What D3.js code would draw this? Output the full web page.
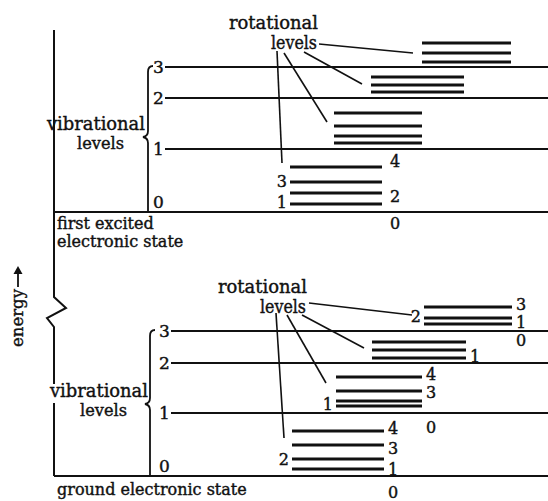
<!DOCTYPE html>
<html>
<head>
<meta charset="utf-8">
<script src="https://cdn.jsdelivr.net/npm/d3@7"></script>
<style>
  html, body { margin: 0; padding: 0; background: #fff; }
  svg { display: block; }
  text { font-family: "DejaVu Serif", "Liberation Serif", serif; fill: #111; stroke: #111; stroke-width: 0.4px; }
</style>
</head>
<body>
<svg id="chart" width="548" height="501"></svg>
<script>
// ---------------- DATA (energies in arbitrary units) ----------------
const vibNumbers = [0, 1, 2, 3];
const groundVibE = [0, 6.3, 11.3, 14.5];          // ground electronic state, v = 0..3
const excitedVibE = [26.4, 32.7, 37.8, 40.9];     // first excited electronic state, v = 0..3
// rotational levels J = 1..n above each vibrational level (relative energies)
const groundRotE = [[0.7, 1.7, 3.1, 4.5], [0.7, 1.2, 2.2, 3.6], [0.5, 1.3, 2.1], [0.7, 1.3, 2.4]];
const excitedRotE = [[0.8, 1.9, 3.0, 4.5], [0.6, 1.3, 2.3, 3.6], [0.6, 1.3, 2.1], [0.5, 1.4, 2.4]];
// J labels: [v, J, side]
const excitedJLabels = [[0, 4, "r"], [0, 3, "l"], [0, 2, "r"], [0, 1, "l"], [0, 0, "r"]];
const groundJLabels = [[0, 4, "r"], [0, 3, "r"], [0, 1, "r"], [0, 2, "l"], [0, 0, "r"],
                       [1, 4, "r"], [1, 3, "r"], [1, 1, "l"], [1, 0, "r"],
                       [2, 1, "r"],
                       [3, 3, "r"], [3, 1, "r"], [3, 0, "r"], [3, 2, "l"]];
const stateNames = ["ground electronic state", "first excited", "electronic state"];

// ---------------- LAYOUT ----------------
const W = 548, H = 501;
const svg = d3.select("#chart");
const y = d3.scaleLinear().domain([0, 44.6]).range([476, 30]);
const axisX = 54;
const excitedStart = d3.scaleOrdinal().domain(vibNumbers).range([290, 334, 371, 422]);
const excitedEnd = d3.scaleOrdinal().domain(vibNumbers).range([382, 422, 464, 511]);
const groundStart = d3.scaleOrdinal().domain(vibNumbers).range([292, 336, 372, 424]);
const groundEnd = d3.scaleOrdinal().domain(vibNumbers).range([384, 422, 466, 512]);
// label vertical offsets (px from the J line) keyed "v-J"
const excitedLabelDy = {"0-4": 0, "0-3": 5, "0-2": 9, "0-1": 4, "0-0": 17};
const groundLabelDy = {"0-4": 3, "0-3": 9, "0-1": 6, "0-2": 6, "0-0": 22,
                       "1-4": 3, "1-3": 7, "1-1": 4, "1-0": 20, "2-1": 4,
                       "3-3": 3, "3-1": 4, "3-0": 15, "3-2": 4};

const ink = "#111";

// ---------------- energy axis ----------------
const axisTop = y.range()[1];
const zig = [[axisX, axisTop], [axisX, 297], [axisX + 12, 308], [axisX - 7, 318], [axisX, 327], [axisX, 384]];
svg.append("path").attr("d", d3.line()(zig)).attr("fill", "none").attr("stroke", ink).attr("stroke-width", 2);
svg.append("line").attr("x1", axisX).attr("x2", axisX).attr("y1", 403).attr("y2", y(0))
  .attr("stroke", ink).attr("stroke-width", 2);

// energy label with arrow
const eg = svg.append("g").attr("transform", "translate(23,318) rotate(-90)");
eg.append("text").attr("x", 0).attr("y", 0).attr("text-anchor", "middle")
  .attr("font-size", 17).attr("textLength", 58).attr("lengthAdjust", "spacingAndGlyphs").text("energy");
eg.append("line").attr("x1", 31).attr("x2", 50).attr("y1", -5).attr("y2", -5)
  .attr("stroke", ink).attr("stroke-width", 1.8);
eg.append("path").attr("d", "M52,-5 L44,-9.5 L44,-0.5 Z").attr("fill", ink);

// ---------------- helper to draw one electronic state ----------------
function drawState(cfg) {
  const g = svg.append("g");
  // electronic state baseline
  g.append("line").attr("x1", axisX).attr("x2", W).attr("y1", y(cfg.vibE[0])).attr("y2", y(cfg.vibE[0]))
    .attr("stroke", ink).attr("stroke-width", 2.2);
  // vibrational levels v >= 1
  g.selectAll("line.vib").data(vibNumbers.filter(v => v > 0)).enter().append("line")
    .attr("class", "vib")
    .attr("x1", cfg.vibLabelX + 12).attr("x2", W)
    .attr("y1", v => y(cfg.vibE[v])).attr("y2", v => y(cfg.vibE[v]))
    .attr("stroke", ink).attr("stroke-width", 2);
  // vibrational labels
  g.selectAll("text.vl").data(vibNumbers).enter().append("text")
    .attr("x", cfg.vibLabelX).attr("y", v => v === 0 ? y(cfg.vibE[0]) - 4 : y(cfg.vibE[v]) + 6)
    .attr("font-size", 17).text(v => v);
  // brace
  const bx = cfg.braceX, yt = y(cfg.vibE[3]) - 1, yb = y(cfg.vibE[0]);
  const ym = cfg.braceMid;
  g.append("path")
    .attr("d", `M${bx + 5},${yt} Q${bx},${yt} ${bx},${yt + 6} L${bx},${ym - 6} Q${bx},${ym - 1} ${bx - 5},${ym} Q${bx},${ym + 1} ${bx},${ym + 6} L${bx},${yb}`)
    .attr("fill", "none").attr("stroke", ink).attr("stroke-width", 1.8);
  // vibrational levels text
  g.append("text").attr("x", cfg.vibTextX).attr("y", cfg.vibTextY).attr("font-size", 18)
    .attr("textLength", 98).attr("lengthAdjust", "spacingAndGlyphs").text("vibrational");
  g.append("text").attr("x", cfg.vibTextX + 30).attr("y", cfg.vibTextY + 19).attr("font-size", 17)
    .attr("textLength", 47).attr("lengthAdjust", "spacingAndGlyphs").text("levels");
  // rotational levels
  cfg.rotE.forEach((arr, v) => {
    g.selectAll(null).data(arr).enter().append("line")
      .attr("x1", cfg.start(v)).attr("x2", cfg.end(v))
      .attr("y1", e => y(cfg.vibE[v] + e)).attr("y2", e => y(cfg.vibE[v] + e))
      .attr("stroke", ink).attr("stroke-width", 3);
  });
  // J labels
  g.selectAll("text.jl").data(cfg.jLabels).enter().append("text")
    .attr("font-size", 16)
    .attr("text-anchor", d => d[2] === "r" ? "start" : "end")
    .attr("x", d => d[2] === "r" ? cfg.end(d[0]) + cfg.gapR : cfg.start(d[0]) - 3)
    .attr("y", d => {
      const e = d[1] === 0 ? cfg.vibE[d[0]] : cfg.vibE[d[0]] + cfg.rotE[d[0]][d[1] - 1];
      return y(e) + cfg.dy[d[0] + "-" + d[1]];
    })
    .text(d => d[1]);
  // rotational levels text + leader lines
  g.append("text").attr("x", cfg.rotTextX).attr("y", cfg.rotTextY).attr("font-size", 18)
    .attr("textLength", 89).attr("lengthAdjust", "spacingAndGlyphs").text("rotational");
  g.append("text").attr("x", cfg.rotTextX + 42).attr("y", cfg.rotTextY + 20).attr("font-size", 18)
    .attr("textLength", 46).attr("lengthAdjust", "spacingAndGlyphs").text("levels");
  g.selectAll("line.ld").data(cfg.leaders).enter().append("line")
    .attr("x1", d => d[0]).attr("y1", d => d[1]).attr("x2", d => d[2]).attr("y2", d => d[3])
    .attr("stroke", ink).attr("stroke-width", 1.6);
  // state name
  cfg.names.forEach((n, i) => {
    g.append("text").attr("x", axisX + 3).attr("y", cfg.nameY + i * 18).attr("font-size", 16).text(n);
  });
}

drawState({
  vibE: excitedVibE, rotE: excitedRotE, jLabels: excitedJLabels, dy: excitedLabelDy,
  start: excitedStart, end: excitedEnd, gapR: 8,
  vibLabelX: 153, braceX: 148, braceMid: 137,
  vibTextX: 47, vibTextY: 130,
  rotTextX: 229, rotTextY: 29,
  leaders: [[319, 44, 413, 53], [304, 52, 362, 84], [284, 53, 327, 122], [277, 51, 282, 163]],
  names: [stateNames[1], stateNames[2]], nameY: 229
});

drawState({
  vibE: groundVibE, rotE: groundRotE, jLabels: groundJLabels, dy: groundLabelDy,
  start: groundStart, end: groundEnd, gapR: 4,
  vibLabelX: 159, braceX: 150, braceMid: 404,
  vibTextX: 50, vibTextY: 397,
  rotTextX: 218, rotTextY: 293,
  leaders: [[309, 303, 412, 315], [302, 315, 364, 348], [287, 315, 326, 383], [276, 313, 284, 438]],
  names: [stateNames[0]], nameY: 495
});
</script>
</body>
</html>
